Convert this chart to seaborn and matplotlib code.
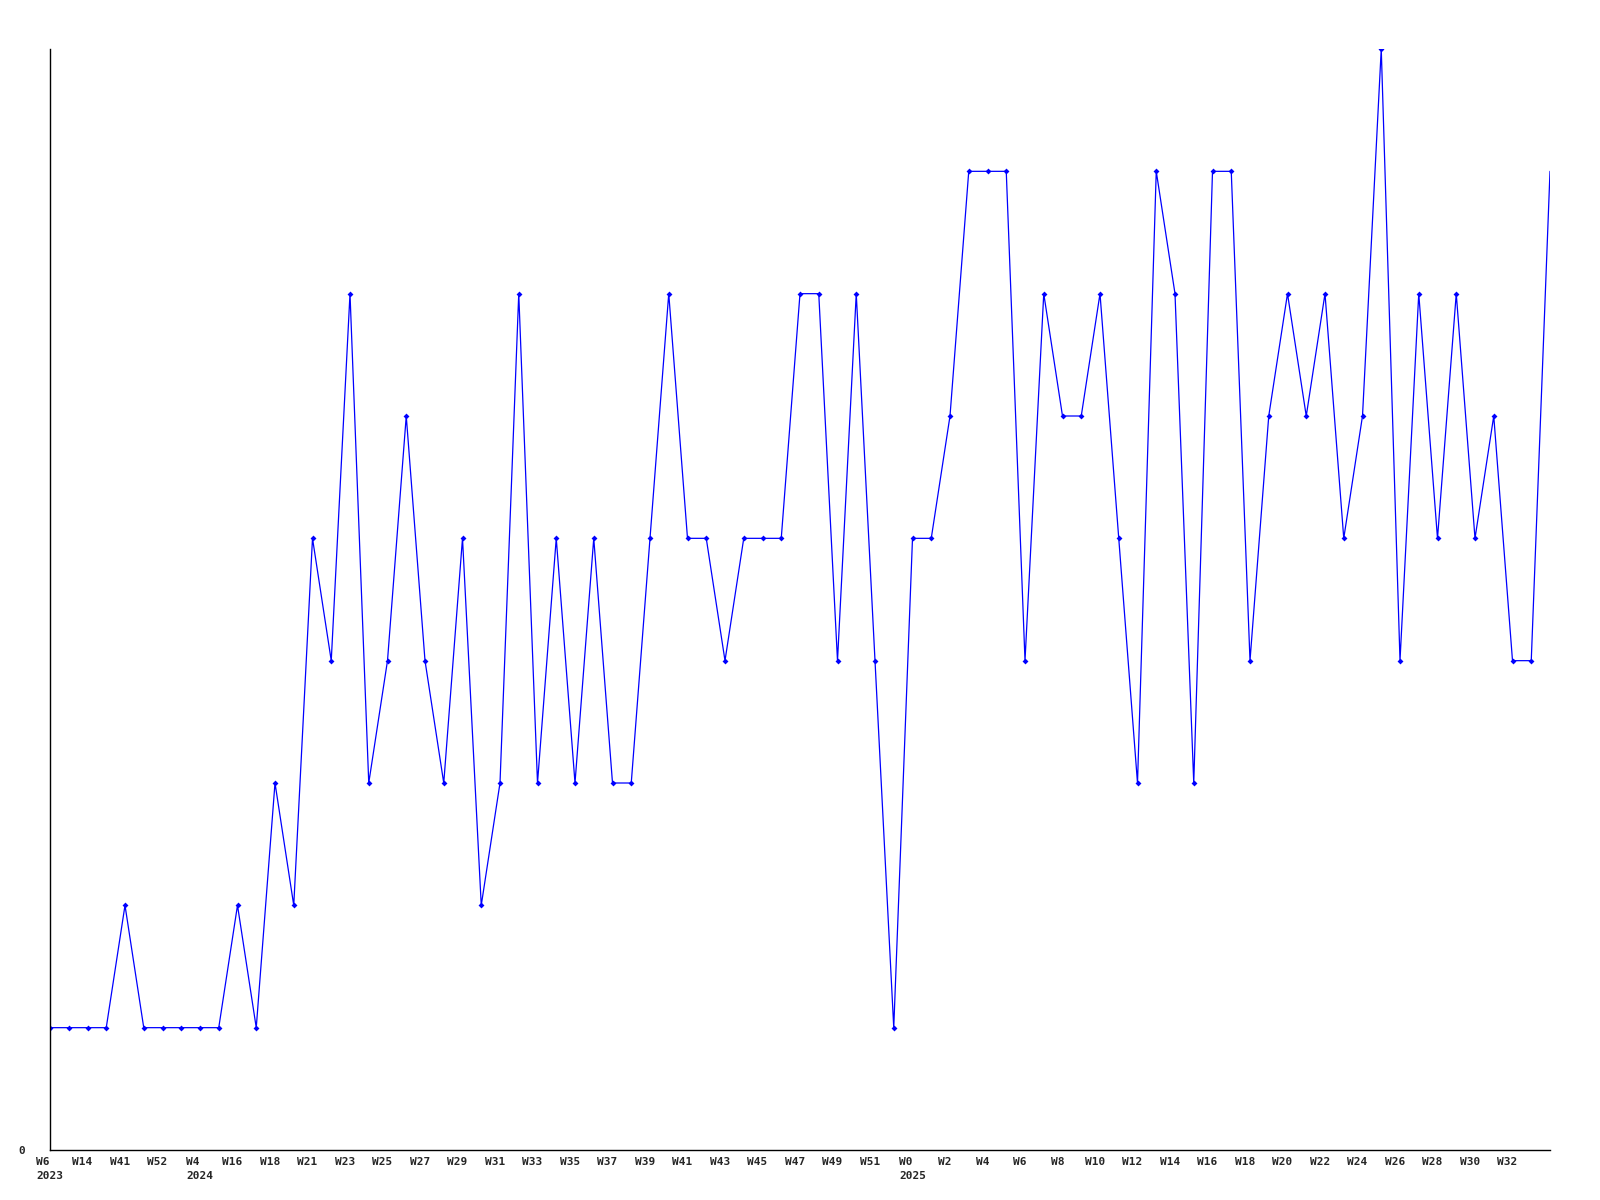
import matplotlib
matplotlib.use("Agg")
import matplotlib.pyplot as plt
import matplotlib.transforms as mtransforms
import seaborn as sns
import pandas as pd
import numpy as np

# values per week (81 points)
values = [1, 1, 1, 1, 2, 1, 1, 1, 1, 1, 2, 1, 3, 2, 5, 4, 7, 3, 4, 6,
          4, 3, 5, 2, 3, 7, 3, 5, 3, 5, 3, 3, 5, 7, 5, 5, 4, 5, 5, 5,
          7, 7, 4, 7, 4, 1, 5, 5, 6, 8, 8, 8, 4, 7, 6, 6, 7, 5, 3, 8,
          7, 3, 8, 8, 4, 6, 7, 6, 7, 5, 6, 9, 4, 7, 5, 7, 5, 6, 4, 4, 8]

# tick labels at every second point
tick_labels = ["W6\n2023", "W14", "W41", "W52", "W4\n2024", "W16", "W18", "W21",
               "W23", "W25", "W27", "W29", "W31", "W33", "W35", "W37", "W39",
               "W41", "W43", "W45", "W47", "W49", "W51", "W0\n2025", "W2", "W4",
               "W6", "W8", "W10", "W12", "W14", "W16", "W18", "W20", "W22",
               "W24", "W26", "W28", "W30", "W32"]

df = pd.DataFrame({"idx": np.arange(len(values)), "value": values})

sns.set_theme(style="white")
plt.rcParams["font.family"] = ["DejaVu Sans Mono", "DejaVu Sans"]

fig = plt.figure(figsize=(16, 12), dpi=100)
ax = fig.add_axes([50 / 1600, 1 - 1150 / 1200, 1500 / 1600, 1101 / 1200])

sns.lineplot(data=df, x="idx", y="value", ax=ax, color="#0000ff", linewidth=0.9,
             marker="D", markersize=3, markeredgewidth=0, markevery=list(range(len(values) - 1)))

ax.set_xlim(0, len(values) - 1)
ax.set_ylim(0, 9)
ax.set_xlabel("")
ax.set_ylabel("")

ax.set_xticks(np.arange(0, 2 * len(tick_labels), 2))
ax.set_xticklabels(tick_labels, fontsize=8, fontweight="bold", linespacing=1.5)
ax.set_yticks([0])
ax.set_yticklabels(["0"], fontsize=8, fontweight="bold")
ax.tick_params(axis="x", length=0, pad=5)
ax.tick_params(axis="y", length=0, pad=18)

for lbl in ax.get_xticklabels():
    shift = 0 if "\n" in lbl.get_text() else -5
    offset = mtransforms.ScaledTranslation(shift / 100, 0, fig.dpi_scale_trans)
    lbl.set_transform(lbl.get_transform() + offset)
    lbl.set_verticalalignment("top")
    lbl.set_multialignment("left")

for s in ["top", "right"]:
    ax.spines[s].set_visible(False)
for s in ["left", "bottom"]:
    ax.spines[s].set_color("black")
    ax.spines[s].set_linewidth(1)

fig.savefig("out.png", dpi=100, facecolor="white")
